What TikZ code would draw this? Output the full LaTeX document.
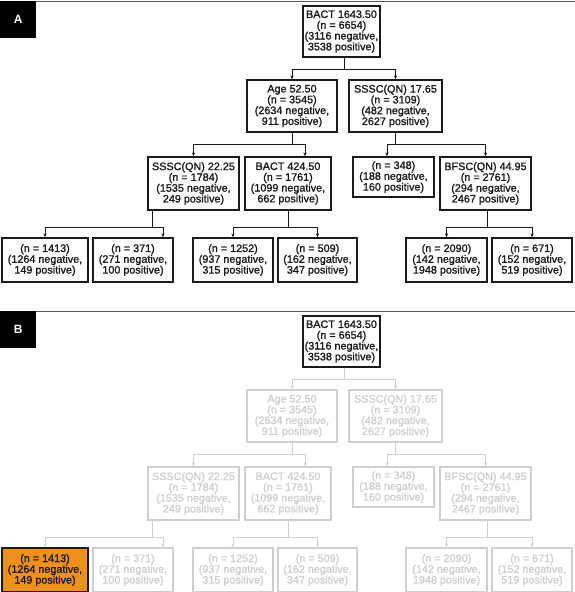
\documentclass[tikz,border=0pt]{standalone}
\usepackage{fontspec}
\setmainfont{Liberation Sans}
\newfontface\treefont{Liberation Sans}[FakeBold=1.4]
\usetikzlibrary{arrows.meta}
\definecolor{ink}      {HTML}{1A1A1A}
\definecolor{fade}     {HTML}{CFCFCF}
\definecolor{rulegray} {HTML}{5A5A5A}
\definecolor{hit}      {HTML}{F0901E}
\tikzset{
  box/.style      ={draw=ink, fill=white, line width=1.3pt, text=ink,
                    align=center, inner xsep=0.5pt, inner ysep=2pt,
                    font=\treefont\fontsize{10.8}{10.8}\selectfont},
  fadebox/.style  ={box, draw=fade, text=fade},
  orangebox/.style={box, fill=hit},
  rootbox/.style  ={box},
  splitbox/.style ={box},
  hitbox/.style   ={box},
  link/.style     ={-{Stealth[length=4pt,width=3.2pt]}, line width=0.8pt, draw=ink},
  fadelink/.style ={link, draw=fade},
  treelink/.style ={link},
  panelrule/.style={draw=rulegray, line width=0.9pt},
  tag/.style      ={fill=black, text=white, minimum width=36pt, minimum height=37pt,
                    inner sep=0pt, font=\bfseries\fontsize{12}{12}\selectfont},
}

% one split tree, node names prefixed by #1
\newcommand{\splittree}[1]{%
  \node[rootbox,minimum width=77pt,minimum height=51pt] (#1root) at (341.5,31.5)
    {BACT 1643.50\\(n = 6654)\\(3116 negative,\\3538 positive)};
  \node[splitbox,minimum width=90pt,minimum height=52pt] (#1age) at (292,106)
    {Age 52.50\\(n = 3545)\\(2634 negative,\\911 positive)};
  \node[splitbox,minimum width=93pt,minimum height=52pt] (#1ssscb) at (395.5,106)
    {SSSC(QN) 17.65\\(n = 3109)\\(482 negative,\\2627 positive)};
  \node[splitbox,minimum width=91pt,minimum height=53pt] (#1ssscc) at (193.5,183.5)
    {SSSC(QN) 22.25\\(n = 1784)\\(1535 negative,\\249 positive)};
  \node[splitbox,minimum width=86pt,minimum height=53pt] (#1bactb) at (288,183.5)
    {BACT 424.50\\(n = 1761)\\(1099 negative,\\662 positive)};
  \node[splitbox,minimum width=81pt,minimum height=40pt] (#1nsmall) at (393.5,177)
    {(n = 348)\\(188 negative,\\160 positive)};
  \node[splitbox,minimum width=91pt,minimum height=53pt] (#1bfsc) at (485.5,183.5)
    {BFSC(QN) 44.95\\(n = 2761)\\(294 negative,\\2467 positive)};
  \node[hitbox,minimum width=86pt,minimum height=44pt] (#1leafa) at (45,260)
    {(n = 1413)\\(1264 negative,\\149 positive)};
  \node[splitbox,minimum width=80pt,minimum height=44pt] (#1leafb) at (133,260)
    {(n = 371)\\(271 negative,\\100 positive)};
  \node[splitbox,minimum width=80pt,minimum height=44pt] (#1leafc) at (233,260)
    {(n = 1252)\\(937 negative,\\315 positive)};
  \node[splitbox,minimum width=79pt,minimum height=44pt] (#1leafd) at (317.5,260)
    {(n = 509)\\(162 negative,\\347 positive)};
  \node[splitbox,minimum width=81pt,minimum height=44pt] (#1leafe) at (446.5,260)
    {(n = 2090)\\(142 negative,\\1948 positive)};
  \node[splitbox,minimum width=80pt,minimum height=44pt] (#1leaff) at (532,260)
    {(n = 671)\\(152 negative,\\519 positive)};
  % elbow connectors
  \draw[treelink] ([xshift=2.5pt]#1root.south) -- ++(0,12) -| (#1age.north);
  \draw[treelink] ([xshift=2.5pt]#1root.south) -- ++(0,12) -| (#1ssscb.north);
  \draw[treelink] (#1age.south) -- ++(0,12) -| (#1ssscc.north);
  \draw[treelink] (#1age.south) -- ++(0,12) -| ([xshift=17pt]#1bactb.north);
  \draw[treelink] (#1ssscb.south) -- ++(0,12) -| ([xshift=-6.5pt]#1nsmall.north);
  \draw[treelink] (#1ssscb.south) -- ++(0,12) -| (#1bfsc.north);
  \draw[treelink] ([xshift=-41.5pt]#1ssscc.south) -- ++(0,17) -| (#1leafa.north);
  \draw[treelink] ([xshift=-41.5pt]#1ssscc.south) -- ++(0,17) -| ([xshift=30pt]#1leafb.north);
  \draw[treelink] (#1bactb.south) -- ++(0,17) -| (#1leafc.north);
  \draw[treelink] (#1bactb.south) -- ++(0,17) -| (#1leafd.north);
  \draw[treelink] ([xshift=1.5pt]#1bfsc.south) -- ++(0,17) -| (#1leafe.north);
  \draw[treelink] ([xshift=1.5pt]#1bfsc.south) -- ++(0,17) -| (#1leaff.north);
}

\begin{document}
\begin{tikzpicture}[x=1pt,y=-1pt]
  \useasboundingbox (0,0) rectangle (575,592);

  % panel A
  \draw[panelrule] (0,1) -- (575,1);
  \node[tag,anchor=north west] (tagA) at (0,1) {A};
  \splittree{A}

  % panel B: only the first leaf highlighted
  \draw[panelrule] (0,311) -- (575,311);
  \node[tag,anchor=north west] (tagB) at (0,311) {B};
  \begin{scope}[shift={(0,310)}, splitbox/.style={fadebox},
                hitbox/.style={orangebox}, treelink/.style={fadelink}]
    \splittree{B}
  \end{scope}
\end{tikzpicture}
\end{document}
